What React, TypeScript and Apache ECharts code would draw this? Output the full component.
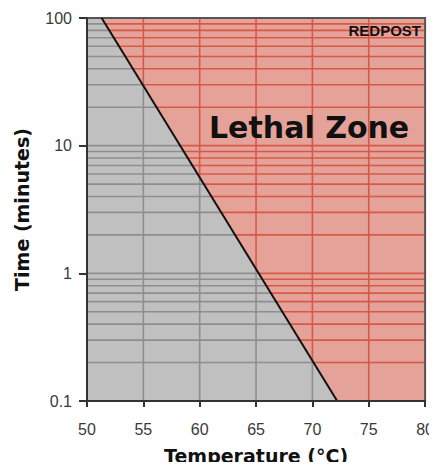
import React, { useEffect, useRef } from "react";
import * as echarts from "echarts";

// Boundary of the lethal zone (temperature °C vs time in minutes)
const boundaryTemps = [51.3, 72.2];
const boundaryTimes = [100, 0.1];

// Axis ranges / ticks
const xMin = 50;
const xMax = 80;
const xStep = 5;
const yMin = 0.1;
const yMax = 100;
const xTickLabels = [50, 55, 60, 65, 70, 75, 80];
const yTickLabels = [0.1, 1, 10, 100];

const zoneLabel = "Lethal Zone";
const brandLabel = "REDPOST";
const xTitle = "Temperature (°C)";
const yTitle = "Time (minutes)";

const GRAY_BG = "#c0c0c0";
const GRAY_LINE = "#8e8e8e";
const RED_BG = "#e5a299";
const RED_LINE = "#d85848";

export default function App() {
  const ref = useRef<HTMLDivElement>(null);

  useEffect(() => {
    if (!ref.current) return;
    const chart = echarts.init(ref.current, null, { renderer: "svg" });

    const T0 = boundaryTemps[0];
    const T1 = boundaryTemps[1];
    const L0 = Math.log10(boundaryTimes[0]);
    const L1 = Math.log10(boundaryTimes[1]);

    // grid-line values (axis minor grid: 1..9 x each decade)
    const hLines: number[] = [];
    for (let d = -1; d < 2; d++) {
      for (let m = 1; m <= 9; m++) {
        const v = m * Math.pow(10, d);
        if (v > yMin * 1.0001 && v < yMax * 0.9999) hLines.push(v);
      }
    }
    const vLines: number[] = [];
    for (let t = xMin + xStep; t < xMax; t += xStep) vLines.push(t);

    const tempAt = (v: number) => T0 + ((Math.log10(v) - L0) / (L1 - L0)) * (T1 - T0);
    const timeAt = (t: number) => {
      if (t >= T1) return yMin;
      return Math.pow(10, L0 + ((t - T0) / (T1 - T0)) * (L1 - L0));
    };

    const renderItem = (params: any, api: any) => {
      const children: any[] = [];
      const tl = api.coord([xMin, yMax]);
      const br = api.coord([xMax, yMin]);
      children.push({
        type: "rect",
        shape: { x: tl[0], y: tl[1], width: br[0] - tl[0], height: br[1] - tl[1] },
        style: { fill: GRAY_BG },
      });
      hLines.forEach((v) => {
        const a = api.coord([xMin, v]);
        const b = api.coord([xMax, v]);
        children.push({
          type: "line",
          shape: { x1: a[0], y1: a[1], x2: b[0], y2: b[1] },
          style: { stroke: GRAY_LINE, lineWidth: 1.6 },
        });
      });
      vLines.forEach((t) => {
        const a = api.coord([t, yMin]);
        const b = api.coord([t, yMax]);
        children.push({
          type: "line",
          shape: { x1: a[0], y1: a[1], x2: b[0], y2: b[1] },
          style: { stroke: GRAY_LINE, lineWidth: 1.6 },
        });
      });
      children.push({
        type: "polygon",
        shape: {
          points: [
            api.coord([T0, yMax]),
            api.coord([xMax, yMax]),
            api.coord([xMax, yMin]),
            api.coord([T1, yMin]),
          ],
        },
        style: { fill: RED_BG },
      });
      hLines.forEach((v) => {
        const a = api.coord([tempAt(v), v]);
        const b = api.coord([xMax, v]);
        children.push({
          type: "line",
          shape: { x1: a[0], y1: a[1], x2: b[0], y2: b[1] },
          style: { stroke: RED_LINE, lineWidth: 1.6 },
        });
      });
      vLines.forEach((t) => {
        if (t <= T0) return;
        const a = api.coord([t, timeAt(t)]);
        const b = api.coord([t, yMax]);
        children.push({
          type: "line",
          shape: { x1: a[0], y1: a[1], x2: b[0], y2: b[1] },
          style: { stroke: RED_LINE, lineWidth: 1.6 },
        });
      });
      children.push({
        type: "polyline",
        shape: { points: [[tl[0], tl[1]], [br[0], tl[1]], [br[0], br[1]]] },
        style: { stroke: "#555555", lineWidth: 2, fill: null },
      });
      return { type: "group", children };
    };

    const titleStyle = {
      fontFamily: "DejaVu Sans, Verdana, sans-serif",
      fontWeight: "bold",
      fontSize: 19,
      color: "#111111",
    };

    chart.setOption({
      animation: false,
      grid: { left: 87, right: 9, top: 18, bottom: 66 },
      xAxis: {
        type: "value",
        min: xMin,
        max: xMax,
        interval: xStep,
        z: 10,
        axisLine: { show: true, lineStyle: { color: "#333333", width: 2 } },
        axisTick: { show: true, inside: false, length: 6, lineStyle: { color: "#333333", width: 2 } },
        axisLabel: {
          margin: 20,
          fontFamily: "Liberation Sans, Arial, sans-serif",
          fontSize: 16,
          color: "#3a3a3a",
          formatter: (v: number) => (xTickLabels.includes(v) ? String(v) : ""),
        },
        splitLine: { show: false },
        name: xTitle,
        nameLocation: "middle",
        nameGap: 45,
        nameTextStyle: titleStyle,
      },
      yAxis: {
        type: "log",
        logBase: 10,
        min: yMin,
        max: yMax,
        z: 10,
        axisLine: { show: true, lineStyle: { color: "#333333", width: 2 } },
        axisTick: { show: true, inside: false, length: 8, lineStyle: { color: "#333333", width: 2 } },
        axisLabel: {
          margin: 15,
          fontFamily: "Liberation Sans, Arial, sans-serif",
          fontSize: 16,
          color: "#3a3a3a",
          formatter: (v: number) => {
            const r = +Number(v).toPrecision(3);
            return yTickLabels.includes(r) ? String(r) : "";
          },
        },
        splitLine: { show: false },
        minorSplitLine: { show: false },
        name: yTitle,
        nameLocation: "middle",
        nameRotate: 90,
        nameGap: 56,
        nameTextStyle: titleStyle,
      },
      series: [
        {
          type: "custom",
          renderItem,
          data: [[xMin, yMin]],
          clip: false,
          silent: true,
          z: 1,
        },
        {
          type: "line",
          data: boundaryTemps.map((t, i) => [t, boundaryTimes[i]]),
          symbol: "none",
          lineStyle: { color: "#111111", width: 2 },
          z: 5,
          silent: true,
        },
      ],
      graphic: [
        {
          type: "text",
          left: 209,
          top: 112,
          z: 20,
          style: {
            text: zoneLabel,
            fontFamily: "DejaVu Sans, Verdana, sans-serif",
            fontWeight: "bold",
            fontSize: 30,
            fill: "#111111",
          },
        },
        {
          type: "text",
          right: 16,
          top: 23,
          z: 20,
          style: {
            text: brandLabel,
            fontFamily: "Liberation Sans, Arial, sans-serif",
            fontWeight: "bold",
            fontSize: 15,
            fill: "#111111",
          },
        },
      ],
    });

    return () => chart.dispose();
  }, []);

  return <div ref={ref} style={{ width: 437, height: 470, margin: -8 }} />;
}
